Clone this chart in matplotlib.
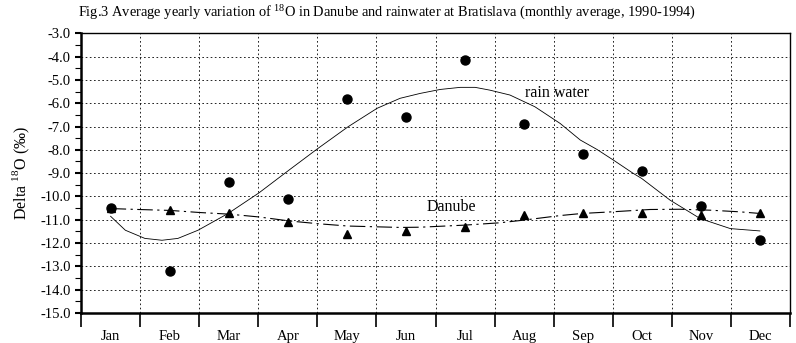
import numpy as np
import matplotlib.pyplot as plt
from matplotlib.ticker import MultipleLocator

plt.rcParams['font.family'] = ['Liberation Serif', 'DejaVu Serif']
plt.rcParams['mathtext.fontset'] = 'custom'
plt.rcParams['mathtext.rm'] = 'Liberation Serif'

months = ['Jan', 'Feb', 'Mar', 'Apr', 'May', 'Jun', 'Jul', 'Aug', 'Sep', 'Oct', 'Nov', 'Dec']

# monthly means of delta 18O (permil)
rain = [-10.5, -13.2, -9.4, -10.1, -5.8, -6.6, -4.15, -6.9, -8.2, -8.9, -10.4, -11.85]
danube = [-10.5, -10.6, -10.7, -11.1, -11.6, -11.5, -11.3, -10.8, -10.7, -10.7, -10.8, -10.7]

# smoothed trend curves (month position, value)
rain_fit_pos = [0.0, 0.25, 0.58, 0.87, 1.14, 1.48, 1.99, 2.51, 3.02, 3.51, 4.02, 4.51,
                4.90, 5.24, 5.58, 5.92, 6.17, 6.42, 6.76, 7.18, 7.61, 7.95, 8.23, 8.51,
                8.84, 8.99, 9.47, 9.98, 10.49, 10.99]
rain_fit = [-10.85, -11.45, -11.8, -11.88, -11.8, -11.45, -10.73, -9.85, -8.87, -7.94,
            -7.01, -6.22, -5.79, -5.58, -5.41, -5.32, -5.32, -5.44, -5.65, -6.15,
            -6.87, -7.58, -7.98, -8.44, -9.0, -9.23, -10.16, -10.95, -11.38, -11.48]
danube_fit_pos = [0.0, 0.47, 1.01, 1.51, 2.01, 2.51, 3.02, 3.51, 4.02, 4.90, 5.24, 6.0,
                  6.59, 6.98, 7.61, 7.98, 8.49, 9.13, 9.64, 10.15, 10.65, 10.99]
danube_fit = [-10.52, -10.56, -10.6, -10.69, -10.76, -10.88, -11.05, -11.17, -11.27,
              -11.33, -11.32, -11.23, -11.13, -11.02, -10.82, -10.73, -10.66, -10.56,
              -10.55, -10.59, -10.66, -10.73]

fig = plt.figure(figsize=(7.96, 3.43), dpi=100)
ax = fig.add_axes([0.1018, 0.0875, 0.8907, 0.8155])

x = np.arange(len(months))

ax.plot(rain_fit_pos, rain_fit, color='black', lw=0.6, zorder=3)
ax.plot(danube_fit_pos, danube_fit, color='black', lw=0.8,
        linestyle=(0, (14, 4, 2, 4)), zorder=3)
ax.plot(x, danube, linestyle='none', marker='^', color='black', markersize=6, zorder=4)
ax.plot(x, rain, linestyle='none', marker='o', color='black', markersize=6.5, zorder=5)

ax.text(7.56, -5.56, 'rain water', fontsize=11.5, ha='center', va='center')
ax.text(5.76, -10.45, 'Danube', fontsize=11.5, ha='center', va='center')

ax.set_xlim(-0.5, 11.5)
ax.set_ylim(-15, -3)

# month boundaries carry the tick marks, labels sit between them
ax.set_xticks(np.arange(-0.5, 12, 1))
ax.set_xticklabels([])
ax.set_xticks(x, minor=True)
ax.set_xticklabels(months, minor=True, fontsize=10.5)
ax.tick_params(axis='x', which='major', direction='out', length=10, width=1.2)
ax.tick_params(axis='x', which='minor', length=0, pad=12)

ax.yaxis.set_major_locator(MultipleLocator(1))
ax.yaxis.set_minor_locator(MultipleLocator(0.5))
ax.set_yticklabels(['%.1f' % v for v in ax.get_yticks()], fontsize=10.5)
ax.tick_params(axis='y', which='major', direction='out', length=4, width=1.5)
ax.tick_params(axis='y', which='minor', direction='out', length=4, width=0.8)

ax.grid(True, which='major', color='black', lw=0.6, linestyle=(0, (2, 3)))
ax.set_axisbelow(True)

for side in ['left', 'bottom']:
    ax.spines[side].set_linewidth(1.8)
for side in ['top', 'right']:
    ax.spines[side].set_linewidth(1.0)

ax.set_ylabel('Delta $^{18}$O (‰)', fontsize=11.5, labelpad=6)

fig.text(0.098, 0.965, 'Fig.3 Average yearly variation of $^{18}$O in Danube and rainwater at '
         'Bratislava (monthly average, 1990-1994)', fontsize=10.4, ha='left', va='center')

fig.savefig('out.png', dpi=100)
